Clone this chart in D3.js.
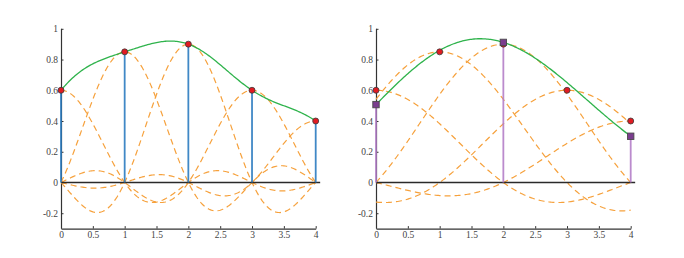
<!DOCTYPE html>
<html>
<head>
<meta charset="utf-8">
<script src="https://cdn.jsdelivr.net/npm/d3@7"></script>
<style>
  body { margin: 0; background: #fff; }
</style>
</head>
<body>
<div id="app"></div>
<script>
// samples and values
const nodeX = [0, 1, 2, 3, 4];
const nodeY = [0.6, 0.85, 0.9, 0.6, 0.4];
// coarser grid used in the right panel
const resampleX = [0, 2, 4];
const xTicks = [0, 0.5, 1, 1.5, 2, 2.5, 3, 3.5, 4];
const yTicks = [-0.2, 0, 0.2, 0.4, 0.6, 0.8, 1];

const sinc = t => t === 0 ? 1 : Math.sin(Math.PI * t) / (Math.PI * t);

const W = 684, H = 258;
const svg = d3.select('#app').append('svg')
  .attr('width', W)
  .attr('height', H);

const panels = [
  { left: 61, right: 315.7, spacing: 1, gain: 1, stems: nodeX, stemColor: '#2c7cc0', squares: false },
  { left: 376, right: 630.7, spacing: 2, gain: 0.5, stems: resampleX, stemColor: '#b47fc8', squares: true }
];

const fmt = d => String(+d.toFixed(1));
const grid = d3.range(0, 4.0001, 0.02);

panels.forEach(p => {
  const x = d3.scaleLinear().domain([0, 4]).range([p.left, p.right]);
  const y = d3.scaleLinear().domain([-0.3, 1]).range([228.6, 28.8]);

  const g = svg.append('g');

  // each sample's own (scaled) kernel
  const kernel = (i, t) => nodeY[i] * sinc((t - nodeX[i]) / p.spacing);
  const recon = t => p.gain * d3.sum(nodeX, (_, i) => kernel(i, t));

  const line = d3.line().x(d => x(d[0])).y(d => y(d[1]));

  // axes
  const xAxis = d3.axisBottom(x).tickValues(xTicks).tickFormat(fmt)
    .tickSizeInner(-2.5).tickSizeOuter(0).tickPadding(2.5);
  const yAxis = d3.axisLeft(y).tickValues(yTicks).tickFormat(fmt)
    .tickSizeInner(-2.5).tickSizeOuter(0).tickPadding(3);

  const gx = g.append('g').attr('transform', `translate(0,${y(-0.3)})`).call(xAxis);
  const gy = g.append('g').attr('transform', `translate(${x(0)},0)`).call(yAxis);
  [gx, gy].forEach(a => {
    a.attr('font-family', '"Liberation Serif", "Times New Roman", serif');
    a.select('.domain').attr('stroke', '#333').attr('stroke-width', 1.2);
    a.selectAll('.tick line').attr('stroke', '#333');
    a.selectAll('.tick text').attr('fill', '#444')
      .style('font-size', '9.5px')
      .style('font-family', '"Liberation Serif", "Times New Roman", serif');
  });
  // domain of the y-axis should span the whole range
  gy.select('.domain').attr('d', `M0.5,${y(1)}V${y(-0.3)}`);

  // dashed kernels
  nodeX.forEach((_, i) => {
    g.append('path')
      .datum(grid.map(t => [t, kernel(i, t)]))
      .attr('d', line)
      .attr('fill', 'none')
      .attr('stroke', '#f6a13c')
      .attr('stroke-width', 1.2)
      .attr('stroke-dasharray', '6,4');
  });

  // zero line
  g.append('line')
    .attr('x1', x(0)).attr('x2', x(4.07))
    .attr('y1', y(0)).attr('y2', y(0))
    .attr('stroke', '#2a2a2a')
    .attr('stroke-width', 1.4);

  // stems
  const stemVal = p.squares ? (t => recon(t)) : (t => nodeY[nodeX.indexOf(t)]);
  g.selectAll('.stem')
    .data(p.stems)
    .enter()
    .append('line')
    .attr('class', 'stem')
    .attr('x1', d => x(d)).attr('x2', d => x(d))
    .attr('y1', y(0)).attr('y2', d => y(stemVal(d)))
    .attr('stroke', p.stemColor)
    .attr('stroke-width', 1.8)
    .attr('opacity', 0.9);

  // reconstructed curve
  g.append('path')
    .datum(grid.map(t => [t, recon(t)]))
    .attr('d', line)
    .attr('fill', 'none')
    .attr('stroke', '#2fb34c')
    .attr('stroke-width', 1.3);

  // samples
  g.selectAll('.pt')
    .data(nodeX)
    .enter()
    .append('circle')
    .attr('class', 'pt')
    .attr('cx', d => x(d))
    .attr('cy', (d, i) => y(nodeY[i]))
    .attr('r', 3)
    .attr('fill', '#e11b22')
    .attr('stroke', '#3a3a3a')
    .attr('stroke-width', 0.8);

  if (p.squares) {
    g.selectAll('.sq')
      .data(p.stems)
      .enter()
      .append('rect')
      .attr('class', 'sq')
      .attr('x', d => x(d) - 3.2)
      .attr('y', d => y(recon(d)) - 3.2)
      .attr('width', 6.4)
      .attr('height', 6.4)
      .attr('fill', '#7a3d8e')
      .attr('stroke', '#4a4a4a')
      .attr('stroke-width', 0.9);
  }
});
</script>
</body>
</html>
